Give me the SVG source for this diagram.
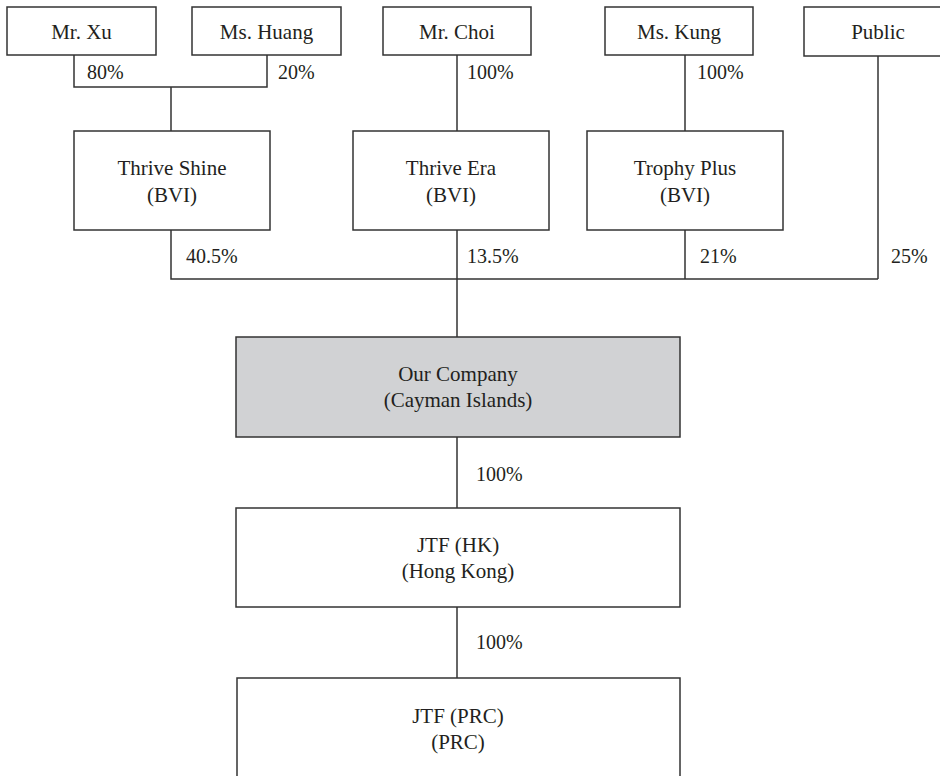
<svg xmlns="http://www.w3.org/2000/svg" width="940" height="776" viewBox="0 0 940 776">
<style>
.box{fill:#ffffff;stroke:#333333;stroke-width:1.5}
.main{fill:#d1d2d4;stroke:#333333;stroke-width:1.5}
.t{font-family:"Liberation Serif","Times New Roman",serif;font-size:21px;fill:#231f20;text-anchor:middle}
.p{font-family:"Liberation Serif","Times New Roman",serif;font-size:20px;fill:#231f20}
.ln{fill:none;stroke:#333333;stroke-width:1.5}
</style>
<rect width="940" height="776" fill="#ffffff"/>
<g id="connectors">
<path class="ln" d="M74 55V87H267V55M171 87V131"/>
<path class="ln" d="M457 55V131"/>
<path class="ln" d="M685 55V131"/>
<path class="ln" d="M878 56V279"/>
<path class="ln" d="M171 230V279H878M457 230V337M685 230V279"/>
<path class="ln" d="M457 437V508"/>
<path class="ln" d="M457 607V678"/>
<text class="p" x="87" y="79">80%</text>
<text class="p" x="278" y="79">20%</text>
<text class="p" x="467" y="79">100%</text>
<text class="p" x="697" y="79">100%</text>
<text class="p" x="186" y="263">40.5%</text>
<text class="p" x="467" y="263">13.5%</text>
<text class="p" x="700" y="263">21%</text>
<text class="p" x="891" y="263">25%</text>
<text class="p" x="476" y="481">100%</text>
<text class="p" x="476" y="649">100%</text>
</g>
<g id="mr-xu"><rect class="box" x="7" y="7" width="149" height="48"/><text class="t" x="81.5" y="39">Mr. Xu</text></g>
<g id="ms-huang"><rect class="box" x="192" y="7" width="149" height="48"/><text class="t" x="266.5" y="39">Ms. Huang</text></g>
<g id="mr-choi"><rect class="box" x="383" y="7" width="148" height="48"/><text class="t" x="457" y="39">Mr. Choi</text></g>
<g id="ms-kung"><rect class="box" x="605" y="7" width="148" height="48"/><text class="t" x="679" y="39">Ms. Kung</text></g>
<g id="public"><rect class="box" x="804" y="7" width="148" height="49"/><text class="t" x="878" y="39">Public</text></g>
<g id="thrive-shine"><rect class="box" x="74" y="131" width="196" height="99"/><text class="t" x="172" y="175">Thrive Shine</text><text class="t" x="172" y="202">(BVI)</text></g>
<g id="thrive-era"><rect class="box" x="353" y="131" width="196" height="99"/><text class="t" x="451" y="175">Thrive Era</text><text class="t" x="451" y="202">(BVI)</text></g>
<g id="trophy-plus"><rect class="box" x="587" y="131" width="196" height="99"/><text class="t" x="685" y="175">Trophy Plus</text><text class="t" x="685" y="202">(BVI)</text></g>
<g id="our-company"><rect class="main" x="236" y="337" width="444" height="100"/><text class="t" x="458" y="381">Our Company</text><text class="t" x="458" y="407">(Cayman Islands)</text></g>
<g id="jtf-hk"><rect class="box" x="236" y="508" width="444" height="99"/><text class="t" x="458" y="552">JTF (HK)</text><text class="t" x="458" y="578">(Hong Kong)</text></g>
<g id="jtf-prc"><rect class="box" x="237" y="678" width="443" height="110"/><text class="t" x="458" y="723">JTF (PRC)</text><text class="t" x="458" y="749">(PRC)</text></g>
</svg>
